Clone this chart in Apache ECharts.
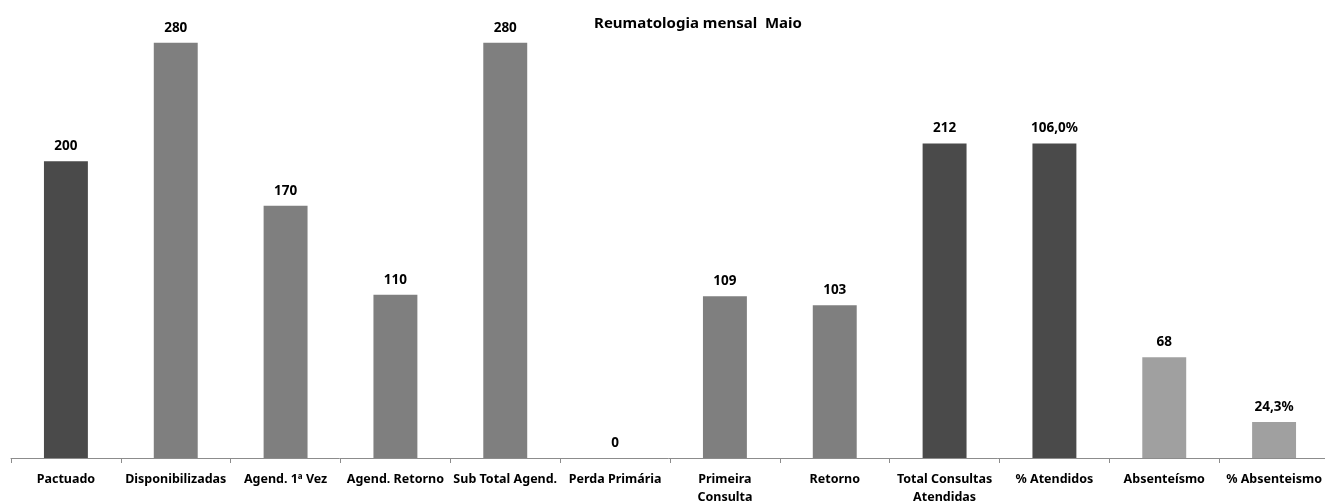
<!DOCTYPE html>
<html>
<head>
<meta charset="utf-8">
<script src="https://cdn.jsdelivr.net/npm/echarts@6/dist/echarts.min.js"></script>
<style>
html,body{margin:0;padding:0;background:#fff;}
#chart{width:1325px;height:501px;}
</style>
</head>
<body>
<div id="chart"></div>
<script>
var categories = ['Pactuado','Disponibilizadas','Agend. 1ª Vez','Agend. Retorno','Sub Total Agend.','Perda Primária','Primeira\nConsulta','Retorno','Total Consultas\nAtendidas','% Atendidos','Absenteísmo','% Absenteismo'];
var barHeights = [200, 280, 170, 110, 280, 0, 109, 103, 212, 212, 68, 24.3];
var valueLabels = ['200','280','170','110','280','0','109','103','212','106,0%','68','24,3%'];
var barColors = ['#4a4a4a','#7f7f7f','#7f7f7f','#7f7f7f','#7f7f7f','#7f7f7f','#7f7f7f','#7f7f7f','#4a4a4a','#4a4a4a','#a0a0a0','#a0a0a0'];
var titleText = 'Reumatologia mensal  Maio';

var FONT = '"Noto Sans", "Open Sans", sans-serif';
var chart = echarts.init(document.getElementById('chart'), null, {renderer:'canvas'});
chart.setOption({
  animation:false,
  backgroundColor:'#fff',
  title:{
    text:titleText, left:693, top:11, textAlign:'center',
    textStyle:{fontFamily:FONT, fontSize:15, fontWeight:'bold', color:'#000'}
  },
  grid:{left:11, right:-4, top:13, bottom:43, containLabel:false, outerBoundsMode:'none'},
  xAxis:{
    type:'category', data:categories,
    axisLine:{show:true, lineStyle:{color:'#8c8c8c', width:1}},
    axisTick:{show:true, length:5, lineStyle:{color:'#8c8c8c'}},
    axisLabel:{interval:0, margin:12, fontFamily:FONT, fontSize:12.5, fontWeight:'bold', color:'#000', lineHeight:18}
  },
  yAxis:{type:'value', min:0, max:300, show:false, splitLine:{show:false}},
  series:[{
    type:'bar',
    barWidth:'40%',
    data:barHeights.map(function(v,i){return {value:v, itemStyle:{color:barColors[i]}};}),
    label:{
      show:true, position:'top', distance:8,
      fontFamily:FONT, fontSize:13.5, fontWeight:'bold', color:'#000',
      formatter:function(p){return valueLabels[p.dataIndex];}
    }
  }]
});
</script>
</body>
</html>
